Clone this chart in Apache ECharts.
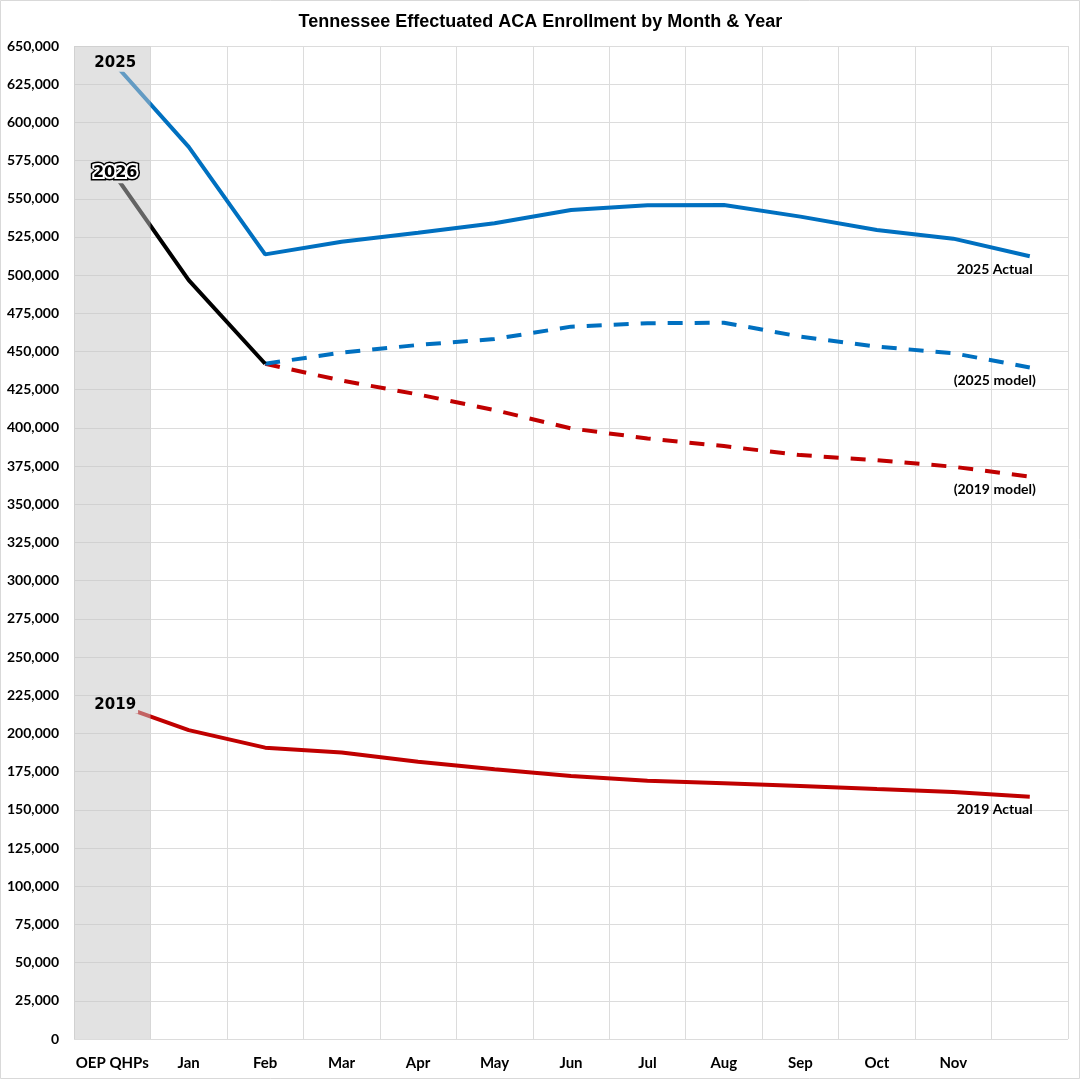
<!DOCTYPE html>
<html>
<head>
<meta charset="utf-8">
<script src="https://cdn.jsdelivr.net/npm/echarts@6/dist/echarts.min.js"></script>
<style>html,body{margin:0;padding:0;background:#fff;}#c{width:1081px;height:1080px;}</style>
</head>
<body>
<div id="c"></div>
<script>
const categories = ['OEP QHPs','Jan','Feb','Mar','Apr','May','Jun','Jul','Aug','Sep','Oct','Nov',''];
const actual2025 = [640000, 584000, 513600, 521900, 527800, 534000, 542600, 545700, 545900, 538300, 529500, 523900, 512400];
const actual2026 = [568000, 496800, 442000, null, null, null, null, null, null, null, null, null, null];
const model2025  = [null, null, 442000, 449300, 454300, 458200, 466300, 468500, 468900, 459800, 453200, 448900, 439600];
const model2019  = [null, null, 442000, 431000, 421900, 411700, 399700, 393100, 388100, 382200, 378900, 374600, 368100];
const actual2019 = [220000, 202200, 190700, 187600, 181500, 176500, 172200, 169100, 167400, 165600, 163600, 161700, 158600];
const yMin = 0, yMax = 650000, yStep = 25000;
const bandValues = [yMax, null, null, null, null, null, null, null, null, null, null, null, null];

const last = categories.length - 1;
const blue = '#0070C0', red = '#C00000';
const bandFill = 'rgba(197,197,197,0.5)';
const bandComposite = '#e2e2e2';

const chart = echarts.init(document.getElementById('c'), null, {renderer: 'canvas'});

function labelSeries(point, z, label) {
  return {
    type: 'scatter', z: z, silent: true, symbolSize: 0,
    itemStyle: {color: '#000', opacity: 1},
    data: [point],
    label: Object.assign({show: true, position: 'inside', color: '#000', opacity: 1}, label)
  };
}
function startLabel(name, arr) {
  return labelSeries([0, arr[0]], 30, {
    offset: [3, 2], formatter: name,
    fontFamily: 'DejaVu Sans', fontWeight: 'bold', fontSize: 15,
    backgroundColor: bandComposite, padding: [1, 2]
  });
}
function endLabel(text, arr) {
  return labelSeries([last, arr[last]], 30, {
    offset: [-35, 13], formatter: text,
    fontFamily: 'Lato', fontWeight: 'bold', fontSize: 14
  });
}

chart.setOption({
  animation: false,
  backgroundColor: '#fff',
  title: {
    text: 'Tennessee Effectuated ACA Enrollment by Month & Year',
    left: 'center', top: 8,
    textStyle: {fontFamily: 'Liberation Sans', fontWeight: 'bold', fontSize: 18, color: '#000'}
  },
  graphic: [{
    type: 'rect', silent: true,
    shape: {x: 0.5, y: 0.5, width: 1079, height: 1078},
    style: {fill: null, stroke: '#d9d9d9', lineWidth: 1}
  }],
  grid: {left: 74, right: 13, top: 46, bottom: 41, containLabel: false},
  xAxis: {
    type: 'category', data: categories, boundaryGap: true,
    axisLine: {show: false}, axisTick: {show: false},
    splitLine: {show: true, lineStyle: {color: '#dcdcdc', width: 1}},
    axisLabel: {fontFamily: 'Lato', fontWeight: 'bold', fontSize: 15, color: '#000', margin: 17, interval: 0}
  },
  yAxis: {
    type: 'value', min: yMin, max: yMax, interval: yStep,
    axisLine: {show: false}, axisTick: {show: false},
    splitLine: {show: true, lineStyle: {color: '#dcdcdc', width: 1}},
    axisLabel: {
      fontFamily: 'Lato', fontWeight: 'bold', fontSize: 14, color: '#000', margin: 15,
      formatter: v => v.toLocaleString('en-US')
    }
  },
  series: [
    {name: '2019 Actual', type: 'line', z: 2, data: actual2019, showSymbol: false, symbol: 'none',
     lineStyle: {color: red, width: 4}, itemStyle: {color: red}},
    {name: '2019 model', type: 'line', z: 2, data: model2019, showSymbol: false, symbol: 'none',
     lineStyle: {color: red, width: 4, type: [15, 12]}, itemStyle: {color: red}},
    {name: '2025 model', type: 'line', z: 3, data: model2025, showSymbol: false, symbol: 'none',
     lineStyle: {color: blue, width: 4, type: [15, 12]}, itemStyle: {color: blue}},
    {name: '2025 Actual', type: 'line', z: 3, data: actual2025, showSymbol: false, symbol: 'none',
     lineStyle: {color: blue, width: 4}, itemStyle: {color: blue}},
    {name: '2026', type: 'line', z: 4, data: actual2026, showSymbol: false, symbol: 'none',
     lineStyle: {color: '#000', width: 4}, itemStyle: {color: '#000'}},
    {name: 'band', type: 'bar', z: 10, silent: true, data: bandValues,
     barWidth: '100%', barCategoryGap: '0%', itemStyle: {color: bandFill}},
    startLabel('2025', actual2025),
    startLabel('2019', actual2019),
    // 2026 label: black outer outline, white halo, black fill
    labelSeries([0, actual2026[0]], 30, {
      offset: [3, 2], formatter: '2026',
      fontFamily: 'DejaVu Sans', fontWeight: 'bold', fontSize: 16,
      backgroundColor: bandComposite, padding: [2, 4],
      textBorderColor: '#000', textBorderWidth: 7
    }),
    labelSeries([0, actual2026[0]], 31, {
      offset: [3, 2], formatter: '2026',
      fontFamily: 'DejaVu Sans', fontWeight: 'bold', fontSize: 16,
      padding: [2, 4],
      textBorderColor: '#fff', textBorderWidth: 4
    }),
    endLabel('2025 Actual', actual2025),
    endLabel('(2025 model)', model2025),
    endLabel('(2019 model)', model2019),
    endLabel('2019 Actual', actual2019)
  ]
});
</script>
</body>
</html>
